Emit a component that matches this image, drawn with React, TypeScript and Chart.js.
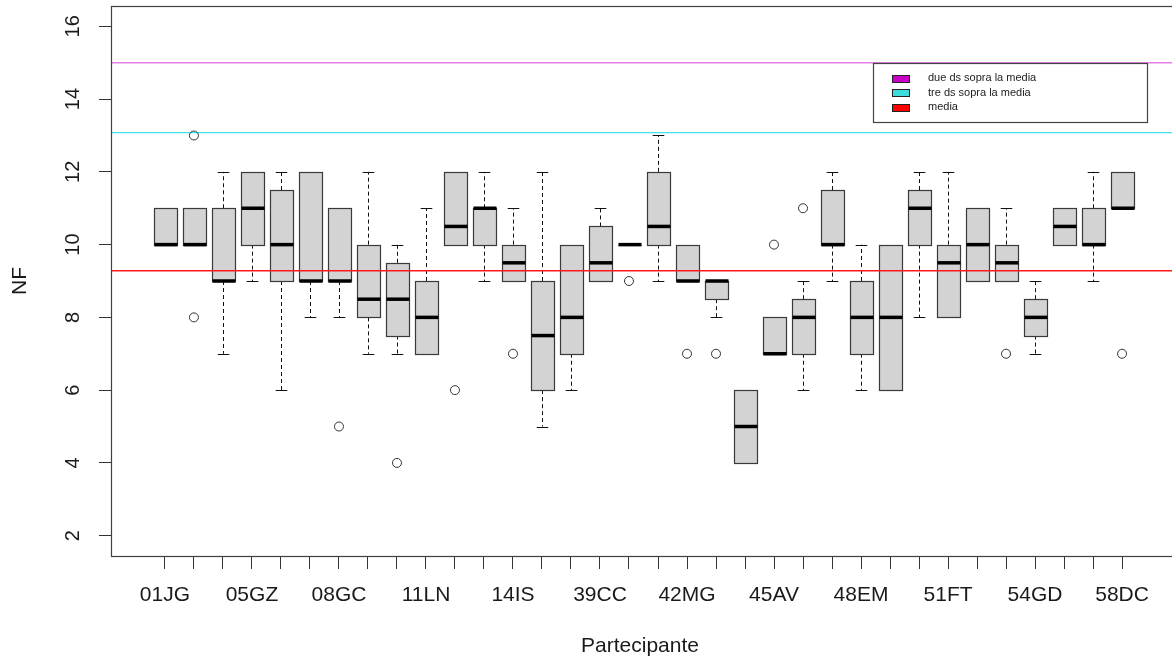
import React, { useEffect, useRef } from 'react';
import { Chart, registerables } from 'chart.js';

Chart.register(...registerables);

// Participant codes (only every third label is legible in the reference)
const participants = [
  '01JG', '', '', '05GZ', '', '', '08GC', '', '', '11LN', '', '',
  '14IS', '', '', '39CC', '', '', '42MG', '', '', '45AV', '', '',
  '48EM', '', '', '51FT', '', '', '54GD', '', '', '58DC',
];

const whiskerLow = [10, 10, 7, 9, 6, 8, 8, 7, 7, 7, 10, 9, 9, 5, 6, 9, 10, 9, 9, 8, 4, 7, 6, 9, 6, 6, 8, 8, 9, 9, 7, 10, 9, 11];
const boxLow = [10, 10, 9, 10, 9, 9, 9, 8, 7.5, 7, 10, 10, 9, 6, 7, 9, 10, 10, 9, 8.5, 4, 7, 7, 10, 7, 6, 10, 8, 9, 9, 7.5, 10, 10, 11];
const medians = [10, 10, 9, 11, 10, 9, 9, 8.5, 8.5, 8, 10.5, 11, 9.5, 7.5, 8, 9.5, 10, 10.5, 9, 9, 5, 7, 8, 10, 8, 8, 11, 9.5, 10, 9.5, 8, 10.5, 10, 11];
const boxHigh = [11, 11, 11, 12, 11.5, 12, 11, 10, 9.5, 9, 12, 11, 10, 9, 10, 10.5, 10, 12, 10, 9, 6, 8, 8.5, 11.5, 9, 10, 11.5, 10, 11, 10, 8.5, 11, 11, 12];
const whiskerHigh = [11, 11, 12, 12, 12, 12, 11, 12, 10, 11, 12, 12, 11, 12, 10, 11, 10, 13, 10, 9, 6, 8, 9, 12, 10, 10, 12, 12, 11, 11, 9, 11, 12, 12];

const outlierBox = [2, 2, 7, 9, 11, 13, 17, 19, 20, 22, 23, 30, 34];
const outlierValue = [13, 8, 5, 4, 6, 7, 9, 7, 7, 10, 11, 7, 7];

const refLabels = ['due ds sopra la media', 'tre ds sopra la media', 'media'];
const refValues = [15.0, 13.08, 9.28];
const refLineColors = ['#e47fe4', '#3fe3ec', '#ff1a1a'];
const refSwatchColors = ['#c800c8', '#3ddcdc', '#ff0000'];

const yTicks = [2, 4, 6, 8, 10, 12, 14, 16];
const yMin = 1.44;
const yMax = 16.56;
const xMin = -0.86;
const xMax = 35.86;

const FONT = "'Liberation Sans', Arial, sans-serif";

const boxPlugin = {
  id: 'rBoxes',
  beforeDatasetsDraw(chart: any) {
    const { ctx } = chart;
    const xs = chart.scales.x;
    const ys = chart.scales.y;
    const half = xs.getPixelForValue(1.4) - xs.getPixelForValue(1);
    const staple = half / 2;
    ctx.save();
    for (let i = 0; i < medians.length; i++) {
      const cx = Math.round(xs.getPixelForValue(i + 1)) + 0.5;
      const yq1 = ys.getPixelForValue(boxLow[i]);
      const yq3 = ys.getPixelForValue(boxHigh[i]);
      const ylo = ys.getPixelForValue(whiskerLow[i]);
      const yhi = ys.getPixelForValue(whiskerHigh[i]);
      const ymed = ys.getPixelForValue(medians[i]);
      // whiskers
      ctx.strokeStyle = '#111';
      ctx.lineWidth = 1;
      ctx.setLineDash([4, 3]);
      if (whiskerHigh[i] > boxHigh[i]) {
        ctx.beginPath();
        ctx.moveTo(cx, yq3);
        ctx.lineTo(cx, yhi);
        ctx.stroke();
      }
      if (whiskerLow[i] < boxLow[i]) {
        ctx.beginPath();
        ctx.moveTo(cx, yq1);
        ctx.lineTo(cx, ylo);
        ctx.stroke();
      }
      ctx.setLineDash([]);
      if (whiskerHigh[i] > boxHigh[i]) {
        ctx.beginPath();
        ctx.moveTo(cx - staple, Math.round(yhi) + 0.5);
        ctx.lineTo(cx + staple, Math.round(yhi) + 0.5);
        ctx.stroke();
      }
      if (whiskerLow[i] < boxLow[i]) {
        ctx.beginPath();
        ctx.moveTo(cx - staple, Math.round(ylo) + 0.5);
        ctx.lineTo(cx + staple, Math.round(ylo) + 0.5);
        ctx.stroke();
      }
      // box
      const left = Math.round(cx - half) + 0.5;
      const right = Math.round(cx + half) + 0.5;
      const top = Math.round(yq3) + 0.5;
      const bottom = Math.round(yq1) + 0.5;
      ctx.fillStyle = '#d3d3d3';
      ctx.fillRect(left, top, right - left, bottom - top);
      ctx.strokeStyle = '#3a3a3a';
      ctx.lineWidth = 1.2;
      ctx.strokeRect(left, top, right - left, bottom - top);
      // median
      ctx.strokeStyle = '#000';
      ctx.lineWidth = 3.5;
      ctx.beginPath();
      ctx.moveTo(left, ymed);
      ctx.lineTo(right, ymed);
      ctx.stroke();
    }
    ctx.restore();
  },
  afterDraw(chart: any) {
    const { ctx, chartArea } = chart;
    const xs = chart.scales.x;
    const ys = chart.scales.y;
    ctx.save();
    // frame
    ctx.strokeStyle = '#404040';
    ctx.lineWidth = 1.2;
    ctx.strokeRect(chartArea.left + 0.5, chartArea.top + 0.5, chartArea.right - chartArea.left - 1, chartArea.bottom - chartArea.top);
    ctx.fillStyle = '#1a1a1a';
    // y tick labels (rotated)
    ctx.font = `20px ${FONT}`;
    ctx.textAlign = 'center';
    ctx.textBaseline = 'middle';
    for (const v of yTicks) {
      ctx.save();
      ctx.translate(73, ys.getPixelForValue(v));
      ctx.rotate(-Math.PI / 2);
      ctx.fillText(String(v), 0, 0);
      ctx.restore();
    }
    // x tick labels
    ctx.font = `21px ${FONT}`;
    participants.forEach((p, i) => {
      if (p) ctx.fillText(p, xs.getPixelForValue(i + 1), 595);
    });
    // axis titles
    ctx.fillText('Partecipante', 640, 646);
    ctx.save();
    ctx.translate(20, (chartArea.top + chartArea.bottom) / 2);
    ctx.rotate(-Math.PI / 2);
    ctx.font = `21px ${FONT}`;
    ctx.fillText('NF', 0, 0);
    ctx.restore();
    // legend
    const lx = chartArea.right - 303;
    const ly = 63;
    ctx.fillStyle = '#ffffff';
    ctx.fillRect(lx + 0.5, ly + 0.5, 274, 59);
    ctx.strokeStyle = '#444';
    ctx.lineWidth = 1.2;
    ctx.strokeRect(lx + 0.5, ly + 0.5, 274, 59);
    ctx.font = `11px ${FONT}`;
    ctx.textAlign = 'left';
    refLabels.forEach((label, k) => {
      const cy = ly + 15 + k * 14.7;
      ctx.fillStyle = refSwatchColors[k];
      ctx.fillRect(lx + 19.5, Math.round(cy - 3.5) + 0.5, 17, 7);
      ctx.strokeStyle = '#222';
      ctx.lineWidth = 1;
      ctx.strokeRect(lx + 19.5, Math.round(cy - 3.5) + 0.5, 17, 7);
      ctx.fillStyle = '#222';
      ctx.fillText(label, lx + 55, cy);
    });
    ctx.restore();
  },
};

export default function App() {
  const canvasRef = useRef<HTMLCanvasElement | null>(null);

  useEffect(() => {
    if (!canvasRef.current) return;
    const chart = new Chart(canvasRef.current, {
      type: 'scatter',
      data: {
        datasets: [
          ...refValues.map((v, k) => ({
            type: 'line' as const,
            label: refLabels[k],
            data: [{ x: xMin, y: v }, { x: xMax, y: v }],
            borderColor: refLineColors[k],
            borderWidth: 1.4,
            pointRadius: 0,
            order: 1,
          })),
          {
            type: 'scatter' as const,
            label: 'outliers',
            data: outlierBox.map((b, k) => ({ x: b, y: outlierValue[k] })),
            pointStyle: 'circle',
            pointRadius: 4.5,
            borderColor: '#333',
            backgroundColor: 'rgba(0,0,0,0)',
            borderWidth: 1,
            order: 0,
          },
        ],
      },
      options: {
        responsive: false,
        animation: false,
        layout: { autoPadding: false, padding: { top: 6, right: 1, left: 0, bottom: 0 } },
        plugins: { legend: { display: false }, tooltip: { enabled: false } },
        scales: {
          x: {
            type: 'linear',
            min: xMin,
            max: xMax,
            afterFit(s: any) { s.height = 105; },
            afterBuildTicks(s: any) { s.ticks = participants.map((_, i) => ({ value: i + 1 })); },
            ticks: { display: false },
            grid: { drawOnChartArea: false, drawTicks: true, tickLength: 13, color: '#333', lineWidth: 1 },
            border: { display: false },
          },
          y: {
            type: 'linear',
            min: yMin,
            max: yMax,
            afterFit(s: any) { s.width = 111; },
            afterBuildTicks(s: any) { s.ticks = yTicks.map((v) => ({ value: v })); },
            ticks: { display: false },
            grid: { drawOnChartArea: false, drawTicks: true, tickLength: 12, color: '#333', lineWidth: 1 },
            border: { display: false },
          },
        },
      },
      plugins: [boxPlugin],
    } as any);
    return () => chart.destroy();
  }, []);

  return (
    <div style={{ position: 'absolute', left: 0, top: 0, width: 1172, height: 661, overflow: 'hidden', background: '#fff' }}>
      <canvas ref={canvasRef} width={1177} height={661} style={{ display: 'block' }} />
    </div>
  );
}
